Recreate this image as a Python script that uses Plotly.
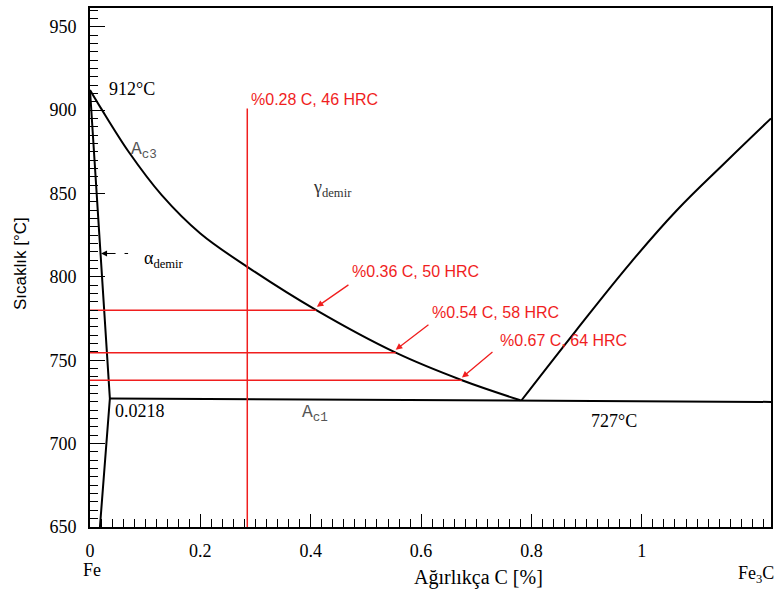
import plotly.graph_objects as go

# Ac3 curve (gamma / alpha+gamma boundary)
ac3_c = [0.0, 0.02, 0.07, 0.13, 0.2, 0.285, 0.41, 0.554, 0.674, 0.78]
ac3_t = [912, 901, 875, 849, 826, 806, 780, 754.5, 738, 726]
# Acm curve
acm_c = [0.782, 0.880, 0.981, 1.063, 1.153, 1.234]
acm_t = [726, 767.5, 809, 839.8, 869.2, 895]
# alpha boundary and solvus
alpha_c = [0.0, 0.036, 0.018]
alpha_t = [912, 727, 650]
# Ac1 line
ac1_c = [0.036, 0.78, 1.234]
ac1_t = [727, 726, 725]

# red sample lines
sample_c = [0.28, 0.36, 0.54, 0.67]
sample_hrc = [46, 50, 58, 64]
vert_c = 0.285
vert_t = [650, 901]
horiz_t = [780, 754.5, 738]
horiz_end_c = [0.41, 0.554, 0.674]

x_ticks = [0, 0.2, 0.4, 0.6, 0.8, 1]
x_ticklabels = ["0", "0.2", "0.4", "0.6", "0.8", "1"]
y_ticks = [650, 700, 750, 800, 850, 900, 950]

BLACK = "black"
RED = "#f01e1e"
SERIF = "Liberation Serif"
SANS = "Liberation Sans"
MONO = "Liberation Mono"

fig = go.Figure()

def line(x, y, color=BLACK, width=2, shape="linear", dash="solid", smoothing=1.0):
    fig.add_trace(go.Scatter(x=x, y=y, mode="lines",
                             line=dict(color=color, width=width, shape=shape, dash=dash, smoothing=smoothing),
                             hoverinfo="skip", showlegend=False))

line(ac3_c, ac3_t, shape="spline")
line(acm_c, acm_t, shape="spline", smoothing=1.2)
line(alpha_c, alpha_t)
line(ac1_c, ac1_t)

# red lines
line([vert_c, vert_c], vert_t, color=RED, width=1.5)
for t, c in zip(horiz_t, horiz_end_c):
    line([0, c], [t, t], color=RED, width=1.5)

# alpha dashed pointer
line([0.03, 0.069], [814, 814], color=BLACK, width=1, dash="dash")

annotations = []
# red labels
lab_pos = [(0.288, 906.3), (0.471, 803.5), (0.616, 778.4), (0.739, 761.7)]
for (c, h), (lx, ly) in zip(zip(sample_c, sample_hrc), lab_pos):
    annotations.append(dict(x=lx, y=ly, xref="x", yref="y", text=f"%{c} C, {h} HRC", showarrow=False,
                            xanchor="left", yanchor="middle", font=dict(family=SANS, size=16, color=RED)))
# red arrows (tail -> tip)
arrows = [((0.471, 795.8), (0.411, 782.0)), ((0.616, 771.9), (0.554, 756.3)), ((0.732, 755.7), (0.674, 739.6))]
for (tx, ty), (hx, hy) in arrows:
    annotations.append(dict(x=hx, y=hy, ax=tx, ay=ty, xref="x", yref="y", axref="x", ayref="y", text="",
                            showarrow=True, arrowhead=2, arrowsize=1, arrowwidth=1.3, arrowcolor=RED))
# alpha arrowhead
annotations.append(dict(x=0.02, y=814, ax=0.04, ay=814, xref="x", yref="y", axref="x", ayref="y", text="",
                        showarrow=True, arrowhead=2, arrowsize=1, arrowwidth=1.2, arrowcolor=BLACK))

def txt(x, y, s, font, size, color=BLACK, xanchor="left", xref="x", yref="y", angle=0):
    annotations.append(dict(x=x, y=y, xref=xref, yref=yref, text=s, showarrow=False, xanchor=xanchor,
                            yanchor="middle", textangle=angle, font=dict(family=font, size=size, color=color)))

txt(0.03, 912.5, "912°C", SERIF, 18)
txt(0.07, 876, "A<sub>c3</sub>", MONO, 18, color="#555")
txt(0.4, 853, "γ<sub>demir</sub>", SERIF, 18, color="#333")
txt(0.095, 810.5, "α<sub>demir</sub>", SERIF, 18)
txt(0.041, 719.5, "0.0218", SERIF, 18)
txt(0.38, 718, "A<sub>c1</sub>", MONO, 18, color="#555")
txt(0.905, 713.5, "727°C", SERIF, 18)

# outside labels
txt(0.003, -0.083, "Fe", SERIF, 18, xanchor="center", yref="paper")
txt(1.207, -0.092, "Fe<sub>3</sub>C", SERIF, 18, xanchor="center", yref="paper")
txt(0.5699, -0.098, "Ağırlıkça C [%]", SERIF, 20, xanchor="center", xref="paper", yref="paper")
txt(-0.1028, 0.5086, "Sıcaklık [°C]", SANS, 17, xanchor="center", xref="paper", yref="paper", angle=-90)

fig.update_layout(
    width=779, height=596,
    margin=dict(l=90, r=8, t=6, b=69),
    plot_bgcolor="white", paper_bgcolor="white",
    font=dict(family=SERIF, size=18, color=BLACK),
    annotations=annotations,
    showlegend=False,
)
fig.update_xaxes(range=[0, 1.234], tickvals=x_ticks, ticktext=x_ticklabels, ticks="inside", ticklen=13,
                 tickwidth=1, tickcolor=BLACK, showgrid=False, zeroline=False, showline=True, linewidth=2,
                 linecolor=BLACK, mirror=True, tickfont=dict(family=SERIF, size=18, color=BLACK, weight="normal"),
                 ticklabelstandoff=6,
                 minor=dict(dtick=0.02, tick0=0, ticks="inside", ticklen=8, tickwidth=1, tickcolor=BLACK, showgrid=False))
fig.update_yaxes(range=[650, 961.2], tickvals=y_ticks, ticks="inside", ticklen=15, tickwidth=1, tickcolor=BLACK,
                 showgrid=False, zeroline=False, showline=True, linewidth=2, linecolor=BLACK, mirror=True,
                 tickfont=dict(family=SERIF, size=18, color=BLACK, weight="normal"), ticklabelstandoff=8,
                 minor=dict(dtick=5, tick0=650, ticks="inside", ticklen=8, tickwidth=1, tickcolor=BLACK, showgrid=False))

fig.write_html("out.html")
